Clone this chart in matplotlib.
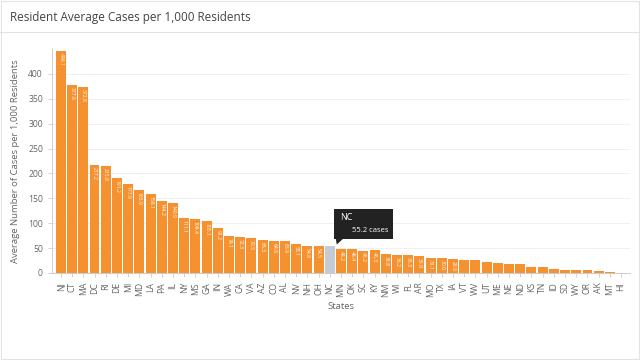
import matplotlib
matplotlib.use("Agg")
import matplotlib.pyplot as plt
import matplotlib.transforms as mtransforms
from matplotlib.patches import Rectangle, Polygon
from matplotlib.lines import Line2D

plt.rcParams["font.family"] = ["Open Sans", "DejaVu Sans"]

# datos
states = ["NJ", "CT", "MA", "DC", "RI", "DE", "MI", "MD", "LA", "PA", "IL", "NY", "MS",
          "GA", "IN", "WA", "CA", "VA", "AZ", "CO", "AL", "NV", "NH", "OH", "NC", "MN",
          "OK", "SC", "KY", "NM", "WI", "FL", "AR", "MO", "TX", "IA", "VT", "WV", "UT",
          "ME", "NE", "ND", "KS", "TN", "ID", "SD", "WY", "OR", "AK", "MT", "HI"]
cases = [446.1, 377.6, 372.8, 217.2, 215.8, 191.2, 177.9, 165.9, 158.1, 144.2, 140.9, 111.1, 108.4,
         105.1, 91.2, 74.1, 72.3, 70.5, 66.3, 64.6, 63.9, 58.1, 54.8, 54.5, 55.2, 48.2,
         48.4, 45.2, 45.3, 38.8, 36.2, 35.3, 35.0, 31.1, 30.0, 28.9, 26.5, 26.0, 21.2,
         20.8, 18.5, 17.6, 11.8, 11.2, 7.4, 5.6, 5.4, 5.2, 3.2, 2.4, 0.4]
highlight = "NC"

orange = "#f5922f"
grey_bar = "#c5cad3"
txt = "#666666"

fig = plt.figure(figsize=(6.4, 3.6), dpi=100)
ax = fig.add_axes([52 / 640, 1 - 273 / 360, 578 / 640, 224 / 360])

x = list(range(len(states)))
colors = [grey_bar if s == highlight else orange for s in states]
ax.bar(x, cases, width=0.88, color=colors, zorder=3)

# etiquetas dentro de las barras
for i, v in enumerate(cases):
    if v >= 28 and states[i] != highlight:
        ax.text(i, v - 4, f"{v:.1f}", rotation=-90, ha="center", va="top",
                color="white", fontsize=3.6, zorder=4)

ax.set_xlim(-0.8, len(states) - 0.2)
ax.set_ylim(0, 450)
ax.set_yticks(range(0, 401, 50))
ax.set_xticks(x)
ax.set_xticklabels(states, rotation=90, fontsize=6.2, color=txt)
ax.tick_params(axis="y", labelsize=6.2, labelcolor=txt, length=3, color="#cccccc", width=0.6)
ax.tick_params(axis="x", length=3, color="#cccccc", width=0.6)
ax.grid(axis="y", color="#f0f0f0", linewidth=0.7, zorder=0)
for sp in ["top", "right"]:
    ax.spines[sp].set_visible(False)
for sp in ["left", "bottom"]:
    ax.spines[sp].set_color("#cccccc")
    ax.spines[sp].set_linewidth(0.7)

ax.set_xlabel("States", fontsize=6.8, color=txt, labelpad=4)
ax.set_ylabel("Average Number of Cases per 1,000 Residents", fontsize=6.8, color=txt, labelpad=6)

# titulo y marco
fig.text(10 / 640, 1 - 17 / 360, "Resident Average Cases per 1,000 Residents",
         fontsize=8.5, color="#444444", va="center")
fig.add_artist(Line2D([0, 1], [1 - 32 / 360, 1 - 32 / 360], color="#e3e3e3", lw=0.8))
fig.add_artist(Rectangle((0.002, 0.003), 0.996, 0.994, fill=False, edgecolor="#e3e3e3", lw=0.8))

# tooltip sobre NC
idx = states.index(highlight)
px, py = ax.transData.transform((idx, cases[idx]))
tr = mtransforms.Affine2D().translate(px, py)
ax.add_patch(Rectangle((4, 6.5), 59, 30, transform=tr, facecolor="#222222",
                       edgecolor="none", clip_on=False, zorder=10))
ax.add_patch(Polygon([(6, 6.5), (13, 6.5), (7, 1)], closed=True, transform=tr,
                     facecolor="#222222", edgecolor="none", clip_on=False, zorder=10))
ax.text(10, 28, highlight, transform=tr, color="white", fontsize=6.5,
        ha="left", va="center", zorder=11)
ax.text(59, 15, f"{cases[idx]:.1f} cases", transform=tr, color="white", fontsize=5.5,
        ha="right", va="center", zorder=11)

fig.savefig("out.png", dpi=100)
